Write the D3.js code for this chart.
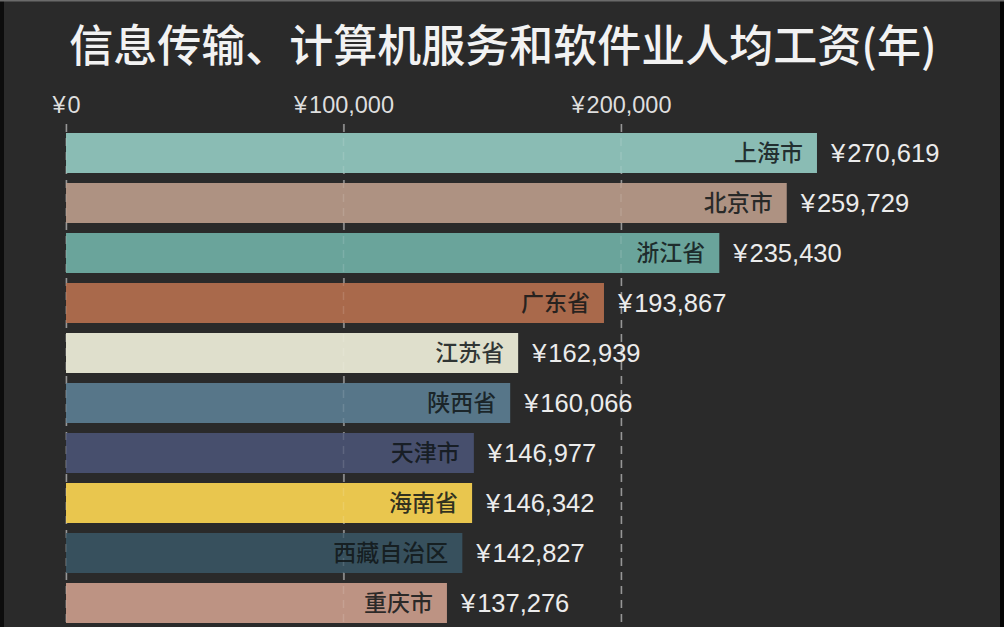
<!DOCTYPE html>
<html><head><meta charset="utf-8">
<script src="https://cdn.jsdelivr.net/npm/d3@7"></script>
<style>
html,body{margin:0;padding:0;background:#2a2a2a;}
svg{display:block;}
</style></head>
<body>
<svg id="chart" width="1004" height="627"></svg>
<script>
const title = "信息传输、计算机服务和软件业人均工资(年)";
const regions = ["上海市","北京市","浙江省","广东省","江苏省","陕西省","天津市","海南省","西藏自治区","重庆市"];
const wages = [270619,259729,235430,193867,162939,160066,146977,146342,142827,137276];
const colors = ["#8abcb4","#ae9282","#6aa49b","#a9694b","#dfdfcc","#577689","#474f6d","#e9c64e","#37505d","#bd9383"];
const tickValues = [0,100000,200000];

const W = 1004, H = 627;
const svg = d3.select("#chart");
svg.append("rect").attr("width",W).attr("height",H).attr("fill","#2a2a2a");
svg.append("rect").attr("x",0).attr("y",0).attr("width",4).attr("height",H).attr("fill","#0c0c0c");
svg.append("rect").attr("x",1000).attr("y",0).attr("width",4).attr("height",H).attr("fill","#050505");
svg.append("rect").attr("x",0).attr("y",0).attr("width",W).attr("height",1.5).attr("fill","#6a6a6a");

const x = d3.scaleLinear().domain([0,100000]).range([66,343.5]);
const y = d3.scaleBand().domain(regions).range([128,628]).paddingInner(0.2).paddingOuter(0.1);

const latin = "'Liberation Sans','Noto Sans CJK SC',sans-serif";
const cjk = "'Noto Sans CJK SC',sans-serif";
const fmt = d3.format(",");

svg.append("text").attr("x",503).attr("y",62).attr("text-anchor","middle")
  .attr("fill","#f2f2f2").attr("font-family",cjk).attr("font-size",44).attr("font-weight",500)
  .text(title);

const gridY0 = 124, gridY1 = H;
const axis = d3.axisTop(x).tickValues(tickValues).tickSize(-(gridY1-gridY0)).tickFormat(d => "");
const gAxis = svg.append("g").attr("transform",`translate(0,${gridY0})`).call(axis);
gAxis.select(".domain").remove();
gAxis.selectAll(".tick line").attr("stroke","#8c8c8c").attr("stroke-dasharray","8,6").attr("stroke-width",1.5);
const tt = gAxis.selectAll(".tick text").attr("fill","#dedede").attr("font-family",latin).attr("font-size",23.5)
  .attr("y",-11).attr("dy",0).attr("text-anchor","middle");
tt.append("tspan").text("¥");
tt.append("tspan").attr("dx",2).text(d => fmt(d));

svg.append("g").selectAll("rect").data(regions).join("rect")
  .attr("x",x(0)).attr("y",d=>y(d)).attr("width",(d,i)=>x(wages[i])-x(0)).attr("height",y.bandwidth())
  .attr("fill",(d,i)=>colors[i]);

svg.append("g").selectAll("line").data(tickValues).join("line")
  .attr("x1",d=>x(d)).attr("x2",d=>x(d)).attr("y1",gridY0).attr("y2",gridY1)
  .attr("stroke","#ffffff").attr("stroke-opacity",0.13).attr("stroke-dasharray","8,6").attr("stroke-width",1.5);

svg.append("g").selectAll("text").data(regions).join("text")
  .attr("x",(d,i)=>x(wages[i])-14).attr("y",d=>y(d)+y.bandwidth()/2).attr("dy","0.36em")
  .attr("text-anchor","end").attr("fill","#101618").attr("fill-opacity",0.85)
  .attr("font-family",cjk).attr("font-size",23).attr("font-weight",500)
  .text(d=>d);

const vl = svg.append("g").selectAll("text").data(regions).join("text")
  .attr("x",(d,i)=>x(wages[i])+14).attr("y",d=>y(d)+y.bandwidth()/2).attr("dy","0.36em")
  .attr("text-anchor","start").attr("fill","#ececec")
  .attr("font-family",latin).attr("font-size",25.5);
vl.append("tspan").text("¥");
vl.append("tspan").attr("dx",2).text((d,i)=>fmt(wages[i]));
</script>
</body></html>
